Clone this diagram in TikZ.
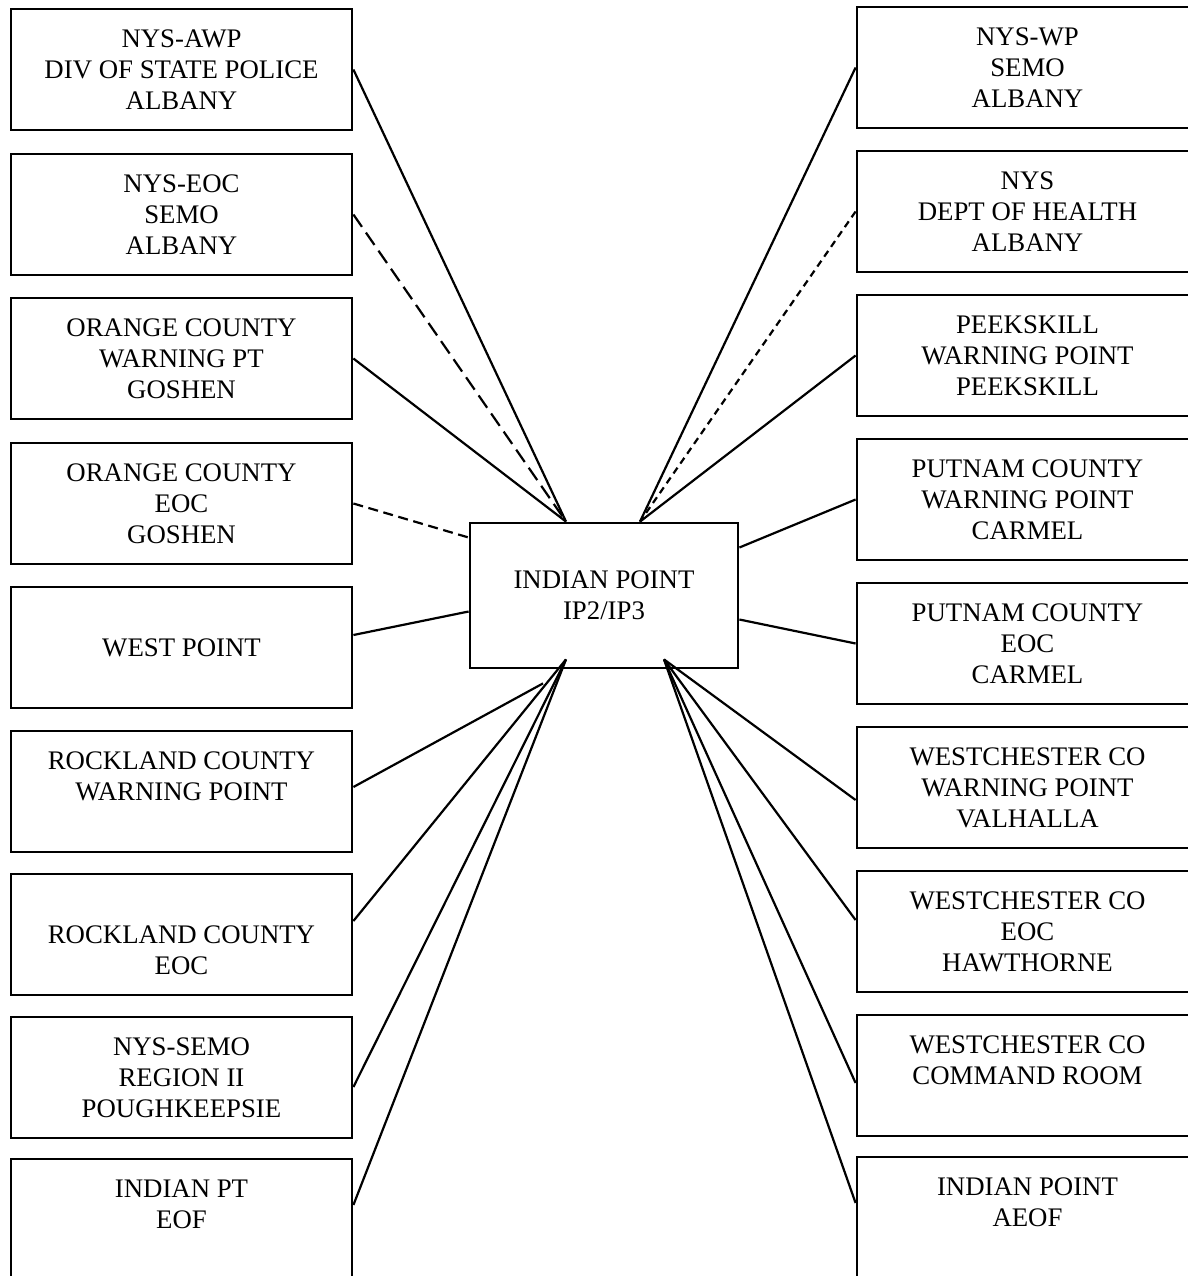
\documentclass[tikz,border=0pt]{standalone}
\usepackage{fontspec}
\setmainfont{Liberation Serif}
\begin{document}
\begin{tikzpicture}[x=0.5pt,y=-0.5pt,
  box/.style={draw,line width=1.4pt,minimum width=170.5pt,minimum height=60.5pt,
    inner sep=0pt,align=center,font=\fontsize{13.4}{15.5}\selectfont},
  hub/.style={box,minimum width=134pt,minimum height=72.5pt},
  link/.style={line width=1.1pt},
  longdash/.style={link,dash pattern=on 7.5pt off 3.5pt},
  shortdash/.style={link,dash pattern=on 5pt off 2.8pt},
  dotdash/.style={link,dash pattern=on 3.5pt off 2.5pt}]
\useasboundingbox (0,0) rectangle (1188,1276);
\clip (0,0) rectangle (1188,1276);

\node[hub] (ip) at (604,595.5) {INDIAN POINT\\IP2/IP3};

% left column
\node[box] (awp) at (181.5,69.5) {NYS-AWP\\DIV OF STATE POLICE\\ALBANY};
\node[box] (eoc) at (181.5,214.5) {NYS-EOC\\SEMO\\ALBANY};
\node[box] (ocwp) at (181.5,358.5) {ORANGE COUNTY\\WARNING PT\\GOSHEN};
\node[box] (oceoc) at (181.5,503.5) {ORANGE COUNTY\\EOC\\GOSHEN};
\node[box] (westpt) at (181.5,647.5) {WEST POINT};
\node[box] (rcwp) at (181.5,791.5) {ROCKLAND COUNTY\\WARNING POINT\\~};
\node[box] (rceoc) at (181.5,934.5) {\vphantom{E}\\ROCKLAND COUNTY\\EOC};
\node[box] (semo) at (181.5,1077.5) {NYS-SEMO\\REGION II\\POUGHKEEPSIE};
\node[box] (eof) at (181.5,1219.5) {INDIAN PT\\EOF\\~};

% right column
\node[box] (nyswp) at (1027.5,67.5) {NYS-WP\\SEMO\\ALBANY};
\node[box] (doh) at (1027.5,211.5) {NYS\\DEPT OF HEALTH\\ALBANY};
\node[box] (peek) at (1027.5,355.5) {PEEKSKILL\\WARNING POINT\\PEEKSKILL};
\node[box] (pcwp) at (1027.5,499.5) {PUTNAM COUNTY\\WARNING POINT\\CARMEL};
\node[box] (pceoc) at (1027.5,643.5) {PUTNAM COUNTY\\EOC\\CARMEL};
\node[box] (wcwp) at (1027.5,787.5) {WESTCHESTER CO\\WARNING POINT\\VALHALLA};
\node[box] (wceoc) at (1027.5,931.5) {WESTCHESTER CO\\EOC\\HAWTHORNE};
\node[box] (wccmd) at (1027.5,1075.5) {WESTCHESTER CO\\COMMAND ROOM\\~};
\node[box] (aeof) at (1027.5,1217.5) {INDIAN POINT\\AEOF\\~};

% meeting points on the hub
\coordinate (nw) at ([xshift=-19pt]ip.north);
\coordinate (ne) at ([xshift=18pt]ip.north);
\coordinate (sw) at ([xshift=-19pt,yshift=5pt]ip.south);
\coordinate (se) at ([xshift=30pt,yshift=5pt]ip.south);
\coordinate (rcend) at ([xshift=-30.5pt,yshift=-7pt]ip.south);

\draw[link] (awp.east) -- (nw);
\draw[longdash] (eoc.east) -- (nw);
\draw[link] (ocwp.east) -- (nw);
\draw[shortdash] (oceoc.east) -- ([yshift=29pt]ip.west);
\draw[link] ([yshift=6.25pt]westpt.east) -- ([yshift=-8pt]ip.west);
\draw[link] ([yshift=2.25pt]rcwp.east) -- (rcend);
\draw[link] ([yshift=6.75pt]rceoc.east) -- (sw);
\draw[link] ([yshift=-4.75pt]semo.east) -- (sw);
\draw[link] ([yshift=7.25pt]eof.east) -- (sw);

\draw[link] (nyswp.west) -- (ne);
\draw[dotdash] (doh.west) -- (ne);
\draw[link] (peek.west) -- (ne);
\draw[link] (pcwp.west) -- ([yshift=24pt]ip.east);
\draw[link] (pceoc.west) -- ([yshift=-12pt]ip.east);
\draw[link] ([yshift=-6.25pt]wcwp.west) -- (se);
\draw[link] ([yshift=5.75pt]wceoc.west) -- (se);
\draw[link] ([yshift=-3.75pt]wccmd.west) -- (se);
\draw[link] ([yshift=7.25pt]aeof.west) -- (se);
\end{tikzpicture}
\end{document}
